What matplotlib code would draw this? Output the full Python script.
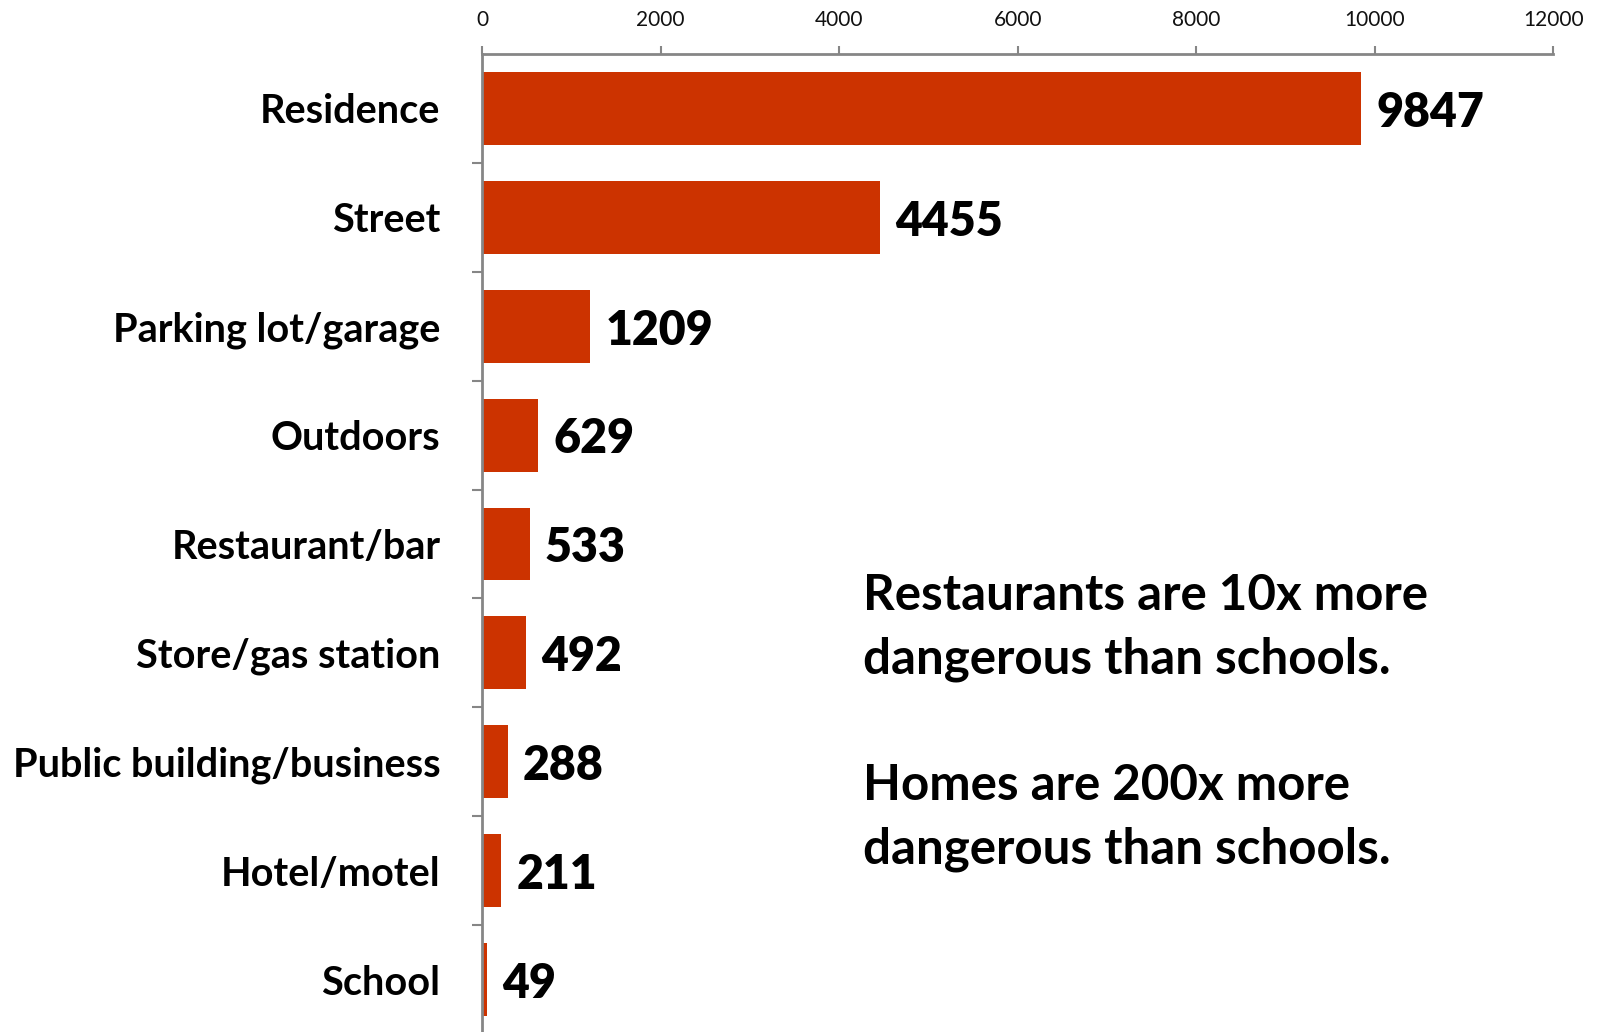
import matplotlib
matplotlib.use("Agg")
from matplotlib import pyplot as plt
from matplotlib.ticker import FixedLocator
import numpy as np

plt.rcParams['font.family'] = ['Lato', 'DejaVu Sans']

locations = ['Residence', 'Street', 'Parking lot/garage', 'Outdoors',
             'Restaurant/bar', 'Store/gas station', 'Public building/business',
             'Hotel/motel', 'School']
counts = [9847, 4455, 1209, 629, 533, 492, 288, 211, 49]
x_ticks = [0, 2000, 4000, 6000, 8000, 10000, 12000]

note = ('Restaurants are 10x more\ndangerous than schools.\n\n'
        'Homes are 200x more\ndangerous than schools.')

bar_color = '#CC3300'
axis_grey = '#868686'

fig = plt.figure(figsize=(16.02, 10.32), dpi=100)
ax = fig.add_axes([0.301, -0.002, 0.6685, 0.9497])

y = np.arange(len(locations))
ax.barh(y, counts, height=0.67, color=bar_color)

for yi, c in zip(y, counts):
    ax.text(c + 170, yi + 0.04, str(c), va='center', ha='left',
            fontsize=33.5, fontweight='heavy', color='black')

ax.set_xlim(0, 12000)
ax.set_ylim(len(locations) - 0.5, -0.5)

ax.xaxis.tick_top()
ax.set_xticks(x_ticks)
ax.set_xticklabels([str(t) for t in x_ticks], fontsize=15)
ax.tick_params(axis='x', direction='out', length=6, width=1.5,
               color=axis_grey, pad=11, labelcolor='#111111')

ax.set_yticks(y)
ax.set_yticklabels(locations, fontsize=28.5, fontweight='bold')
for lbl in ax.get_yticklabels():
    lbl.set_y(lbl.get_position()[1])
ax.tick_params(axis='y', which='major', length=0, pad=30)
ax.yaxis.set_minor_locator(FixedLocator(np.arange(len(locations) - 1) + 0.5))
ax.tick_params(axis='y', which='minor', direction='out', length=7,
               width=1.5, color=axis_grey)

for side in ['right', 'bottom']:
    ax.spines[side].set_visible(False)
for side in ['top', 'left']:
    ax.spines[side].set_color(axis_grey)
    ax.spines[side].set_linewidth(2)

fig.text(0.539, 0.30, note, fontsize=35.5, fontweight='bold',
         ha='left', va='center', linespacing=1.49)

fig.savefig('out.png', dpi=100)
